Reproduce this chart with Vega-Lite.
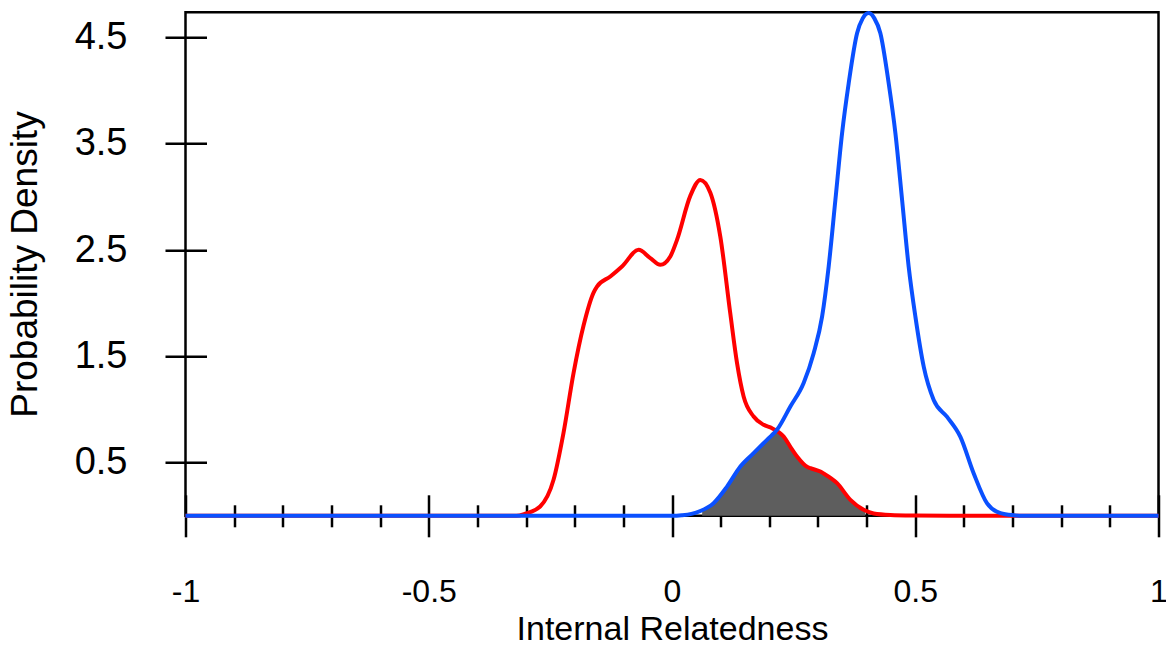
{
  "$schema": "https://vega.github.io/schema/vega-lite/v6.json",
  "width": 973,
  "height": 503.5,
  "autosize": {"type": "none"},
  "padding": {"left": 185.5, "top": 12.3, "right": 7.5, "bottom": 132.2},
  "background": "white",
  "config": {
    "view": {"stroke": "black", "strokeWidth": 2.5},
    "axis": {
      "grid": false,
      "labelFont": "Liberation Sans",
      "titleFont": "Liberation Sans",
      "labelColor": "black",
      "titleColor": "black",
      "tickColor": "black",
      "tickWidth": 2.5,
      "titleFontWeight": "normal",
      "labelOverlap": false,
      "labelBound": false,
      "labelFlush": false
    }
  },
  "data": {
    "values": [
      {"s": "red", "x": -1, "y": 0},
      {"s": "red", "x": -0.5, "y": 0},
      {"s": "red", "x": -0.32, "y": 0},
      {"s": "red", "x": -0.3017, "y": 0.02},
      {"s": "red", "x": -0.271, "y": 0.088},
      {"s": "red", "x": -0.2435, "y": 0.339},
      {"s": "red", "x": -0.223, "y": 0.781},
      {"s": "red", "x": -0.2023, "y": 1.345},
      {"s": "red", "x": -0.1818, "y": 1.79},
      {"s": "red", "x": -0.1612, "y": 2.1},
      {"s": "red", "x": -0.1542, "y": 2.157},
      {"s": "red", "x": -0.1268, "y": 2.251},
      {"s": "red", "x": -0.1028, "y": 2.345},
      {"s": "red", "x": -0.0687, "y": 2.502},
      {"s": "red", "x": -0.0446, "y": 2.424},
      {"s": "red", "x": -0.0241, "y": 2.361},
      {"s": "red", "x": -0.0035, "y": 2.44},
      {"s": "red", "x": 0.0103, "y": 2.596},
      {"s": "red", "x": 0.0376, "y": 3.01},
      {"s": "red", "x": 0.0582, "y": 3.16},
      {"s": "red", "x": 0.0788, "y": 3.04},
      {"s": "red", "x": 0.0993, "y": 2.627},
      {"s": "red", "x": 0.1199, "y": 1.9},
      {"s": "red", "x": 0.1337, "y": 1.436},
      {"s": "red", "x": 0.1472, "y": 1.122},
      {"s": "red", "x": 0.1678, "y": 0.934},
      {"s": "red", "x": 0.1884, "y": 0.856},
      {"s": "red", "x": 0.2056, "y": 0.824},
      {"s": "red", "x": 0.2295, "y": 0.746},
      {"s": "red", "x": 0.2433, "y": 0.649},
      {"s": "red", "x": 0.257, "y": 0.558},
      {"s": "red", "x": 0.2776, "y": 0.461},
      {"s": "red", "x": 0.2844, "y": 0.448},
      {"s": "red", "x": 0.3049, "y": 0.416},
      {"s": "red", "x": 0.3117, "y": 0.398},
      {"s": "red", "x": 0.3393, "y": 0.307},
      {"s": "red", "x": 0.3667, "y": 0.15},
      {"s": "red", "x": 0.394, "y": 0.056},
      {"s": "red", "x": 0.4146, "y": 0.022},
      {"s": "red", "x": 0.449, "y": 0.008},
      {"s": "red", "x": 0.5, "y": 0.003},
      {"s": "red", "x": 0.6, "y": 0},
      {"s": "red", "x": 1, "y": 0},
      {"s": "blue", "x": -1, "y": 0},
      {"s": "blue", "x": 0, "y": 0},
      {"s": "blue", "x": 0.02, "y": 0.005},
      {"s": "blue", "x": 0.04, "y": 0.018},
      {"s": "blue", "x": 0.0582, "y": 0.045},
      {"s": "blue", "x": 0.0855, "y": 0.119},
      {"s": "blue", "x": 0.1131, "y": 0.275},
      {"s": "blue", "x": 0.1405, "y": 0.464},
      {"s": "blue", "x": 0.1678, "y": 0.59},
      {"s": "blue", "x": 0.1953, "y": 0.715},
      {"s": "blue", "x": 0.2159, "y": 0.809},
      {"s": "blue", "x": 0.2433, "y": 1.028},
      {"s": "blue", "x": 0.2706, "y": 1.25},
      {"s": "blue", "x": 0.2912, "y": 1.53},
      {"s": "blue", "x": 0.3085, "y": 1.874},
      {"s": "blue", "x": 0.322, "y": 2.344},
      {"s": "blue", "x": 0.3358, "y": 2.97},
      {"s": "blue", "x": 0.3496, "y": 3.6},
      {"s": "blue", "x": 0.3632, "y": 4.07},
      {"s": "blue", "x": 0.3804, "y": 4.54},
      {"s": "blue", "x": 0.392, "y": 4.68},
      {"s": "blue", "x": 0.4043, "y": 4.73},
      {"s": "blue", "x": 0.416, "y": 4.68},
      {"s": "blue", "x": 0.4283, "y": 4.54},
      {"s": "blue", "x": 0.4454, "y": 4.07},
      {"s": "blue", "x": 0.4592, "y": 3.6},
      {"s": "blue", "x": 0.473, "y": 2.97},
      {"s": "blue", "x": 0.4865, "y": 2.344},
      {"s": "blue", "x": 0.5003, "y": 1.874},
      {"s": "blue", "x": 0.5174, "y": 1.404},
      {"s": "blue", "x": 0.5379, "y": 1.09},
      {"s": "blue", "x": 0.5655, "y": 0.93},
      {"s": "blue", "x": 0.5928, "y": 0.743},
      {"s": "blue", "x": 0.6202, "y": 0.398},
      {"s": "blue", "x": 0.6477, "y": 0.116},
      {"s": "blue", "x": 0.6751, "y": 0.025},
      {"s": "blue", "x": 0.7024, "y": 0.005},
      {"s": "blue", "x": 0.72, "y": 0},
      {"s": "blue", "x": 1, "y": 0},
      {"s": "overlap", "x": 0.062, "y": 0.04},
      {"s": "overlap", "x": 0.0855, "y": 0.119},
      {"s": "overlap", "x": 0.1131, "y": 0.275},
      {"s": "overlap", "x": 0.1405, "y": 0.464},
      {"s": "overlap", "x": 0.1678, "y": 0.59},
      {"s": "overlap", "x": 0.1953, "y": 0.715},
      {"s": "overlap", "x": 0.208, "y": 0.79},
      {"s": "overlap", "x": 0.2295, "y": 0.746},
      {"s": "overlap", "x": 0.2433, "y": 0.649},
      {"s": "overlap", "x": 0.257, "y": 0.558},
      {"s": "overlap", "x": 0.2776, "y": 0.461},
      {"s": "overlap", "x": 0.2844, "y": 0.448},
      {"s": "overlap", "x": 0.3049, "y": 0.416},
      {"s": "overlap", "x": 0.3117, "y": 0.398},
      {"s": "overlap", "x": 0.3393, "y": 0.307},
      {"s": "overlap", "x": 0.3667, "y": 0.15},
      {"s": "overlap", "x": 0.397, "y": 0.05}
    ]
  },
  "layer": [
    {
      "transform": [{"filter": "datum.s === 'overlap'"}],
      "mark": {"type": "area", "color": "#5E5E5E", "interpolate": "monotone", "opacity": 1},
      "encoding": {
        "x": {
          "field": "x", "type": "quantitative",
          "scale": {"domain": [-1, 1], "nice": false, "zero": false},
          "axis": {
            "orient": "bottom",
            "values": [-1, -0.5, 0, 0.5, 1],
            "offset": -21,
            "tickSize": 42,
            "domain": false,
            "labelFontSize": 32,
            "labelPadding": 40,
            "labelExpr": "replace(format(datum.value, '~g'), '\u2212', '-')",
            "title": "Internal Relatedness",
            "titleFontSize": 34,
            "titlePadding": 5
          }
        },
        "y": {
          "field": "y", "type": "quantitative", "stack": null,
          "scale": {"domain": [0, 4.737], "nice": false, "zero": false},
          "axis": {
            "orient": "left",
            "values": [0.5, 1.5, 2.5, 3.5, 4.5],
            "format": ".1f",
            "offset": -21,
            "tickSize": 41.5,
            "domain": false,
            "labelFontSize": 38,
            "labelPadding": 38,
            "title": "Probability Density",
            "titleFontSize": 37,
            "titlePadding": 30
          }
        }
      }
    },
    {
      "transform": [{"filter": "datum.s === 'red'"}],
      "mark": {"type": "line", "color": "#FF0000", "strokeWidth": 4, "interpolate": "monotone"},
      "encoding": {
        "x": {
          "field": "x", "type": "quantitative",
          "scale": {"domain": [-1, 1], "nice": false, "zero": false},
          "axis": {
            "orient": "bottom",
            "values": [-0.9, -0.8, -0.7, -0.6, -0.4, -0.3, -0.2, -0.1, 0.1, 0.2, 0.3, 0.4, 0.6, 0.7, 0.8, 0.9],
            "offset": -11,
            "tickSize": 22,
            "domain": false,
            "labels": false,
            "title": null
          }
        },
        "y": {
          "field": "y", "type": "quantitative",
          "scale": {"domain": [0, 4.737], "nice": false, "zero": false},
          "axis": null
        }
      }
    },
    {
      "transform": [{"filter": "datum.s === 'blue'"}],
      "mark": {"type": "line", "color": "#0A50FF", "strokeWidth": 4, "interpolate": "monotone"},
      "encoding": {
        "x": {
          "field": "x", "type": "quantitative",
          "scale": {"domain": [-1, 1], "nice": false, "zero": false},
          "axis": null
        },
        "y": {
          "field": "y", "type": "quantitative",
          "scale": {"domain": [0, 4.737], "nice": false, "zero": false},
          "axis": null
        }
      }
    }
  ],
  "resolve": {"axis": {"x": "independent", "y": "independent"}}
}
